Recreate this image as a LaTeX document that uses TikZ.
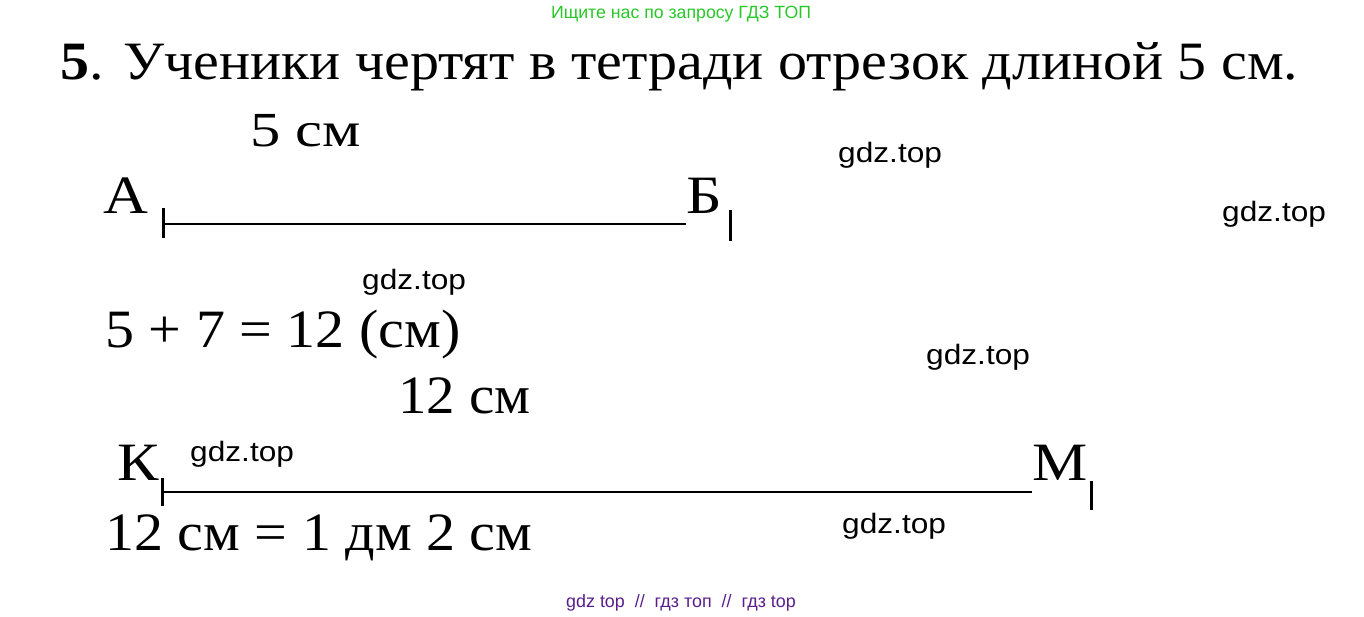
\documentclass[tikz,border=0pt]{standalone}
\usepackage{fontspec}
\setmainfont{Liberation Serif}
\newfontfamily\wmfont{Liberation Sans}
\definecolor{topgreen}{RGB}{40,200,40}
\definecolor{botpurple}{RGB}{90,30,140}
\tikzset{
  serif/.style={inner sep=0pt, anchor=base west, font=\fontsize{54}{60}\selectfont, xscale=1.075},
  letter/.style={inner sep=0pt, anchor=base west, font=\fontsize{54}{60}\selectfont, xscale=1.15},
  wm/.style={inner sep=0pt, anchor=base west, font=\wmfont\fontsize{28}{30}\selectfont, xscale=1.13},
  seg/.style={line width=2.5pt},
  tick/.style={line width=3pt}
}
\begin{document}
\begin{tikzpicture}[x=1pt,y=-1pt]
\useasboundingbox (0,0) rectangle (1364,616);
\node[inner sep=0pt, anchor=base, text=topgreen, font=\wmfont\fontsize{17.7}{18}\selectfont] (top) at (681,18) {Ищите нас по запросу ГДЗ ТОП};
\node[serif] (title) at (60,79) {\textbf{5}. Ученики чертят в тетради отрезок длиной 5 см.};
\node[serif, font=\fontsize{49}{52}\selectfont, xscale=1.15] (l5) at (250,146) {5 см};
\node[letter] (A) at (103,213) {А};
\node[letter] (B) at (686,213) {Б};
\coordinate (a1) at (163,224);
\coordinate (b1) at (686,224);
\draw[seg] (a1) -- (b1);
\draw[tick] ([yshift=-14]a1) -- ([yshift=16]a1);
\draw[tick] (730,210) coordinate (bt1) -- (730,241) coordinate (bt2);
\node[serif] (eq1) at (105,347) {5 + 7 = 12 (см)};
\node[serif, xscale=0.98] (l12) at (398,413) {12 см};
\node[letter] (K) at (117,480) {К};
\node[letter] (M) at (1032,480) {М};
\coordinate (k1) at (162,492);
\coordinate (m1) at (1032,492);
\draw[seg] (k1) -- (m1);
\draw[tick] ([yshift=-14]k1) -- ([yshift=14]k1);
\draw[tick] (1091,481) coordinate (mt1) -- (1091,510) coordinate (mt2);
\node[serif] (eq2) at (105,550) {12 см = 1 дм 2 см};
\node[wm] (w1) at (838,162) {gdz.top};
\node[wm] (w2) at (1222,221) {gdz.top};
\node[wm] (w3) at (362,289) {gdz.top};
\node[wm] (w4) at (926,364) {gdz.top};
\node[wm] (w5) at (190,461) {gdz.top};
\node[wm] (w6) at (842,533) {gdz.top};
\node[inner sep=0pt, anchor=base, text=botpurple, font=\wmfont\fontsize{17.9}{18}\selectfont] (bot) at (681,607) {gdz top \ // \ гдз топ \ // \ гдз top};
\end{tikzpicture}
\end{document}
